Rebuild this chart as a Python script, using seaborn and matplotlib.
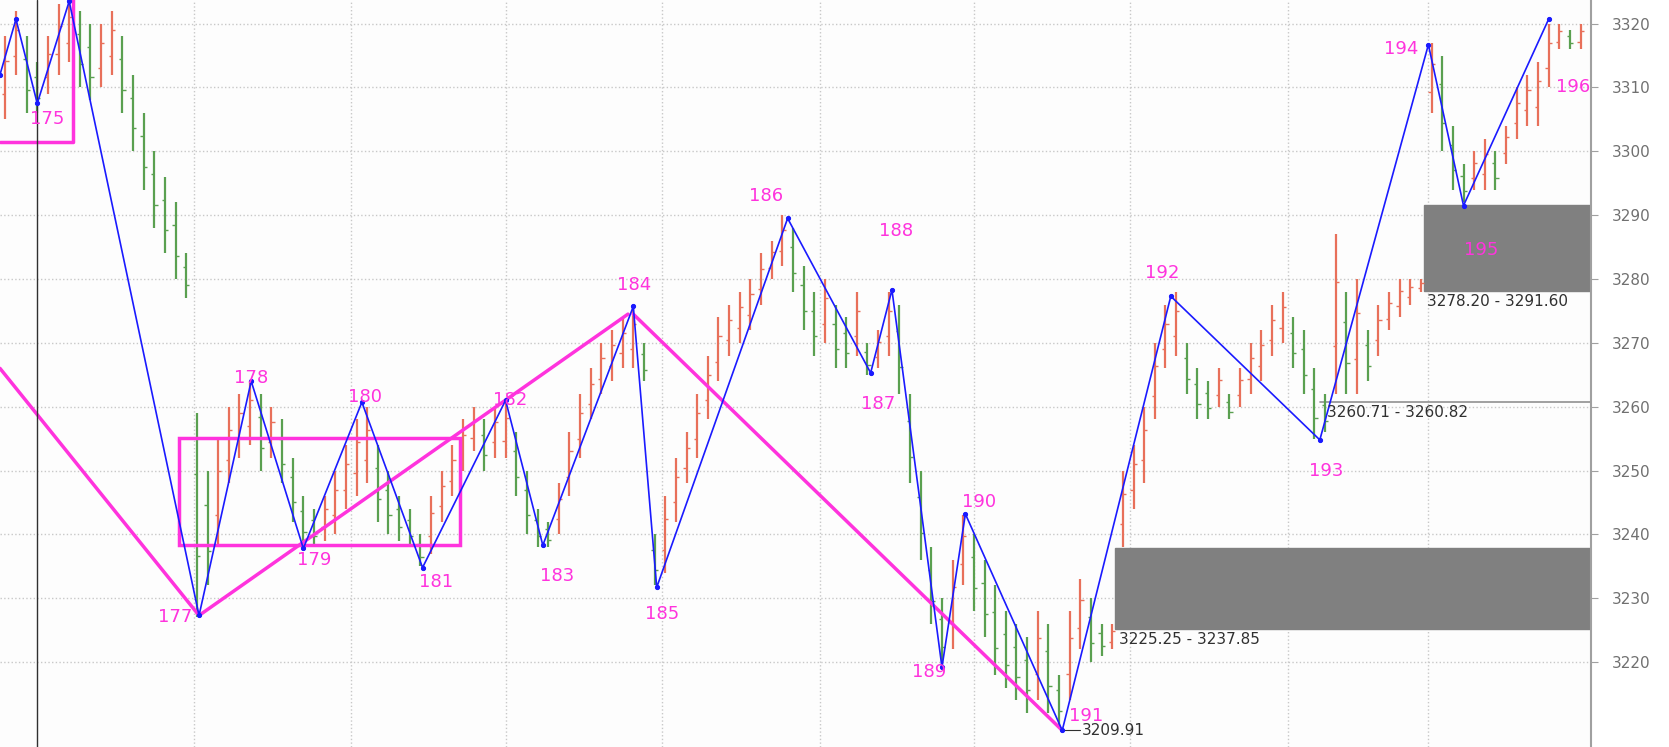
import matplotlib
matplotlib.use("Agg")
import matplotlib.pyplot as plt
import seaborn as sns
import pandas as pd
import numpy as np
from matplotlib.patches import Rectangle

sns.set_style("white")
plt.rcParams['font.family'] = ['DejaVu Sans']

# bar highs / lows (one bar per x unit, starting at 0.5)
highs = [3318,3322,3318,3314,3318,3323,3324,3322,3320,3320,3322,3318,3312,3306,3300,3296,3292,3284,
         3259,3250,3255,3260,3262,3264,3262,3260,3258,3252,3246,3244,3246,3250,3254,3258,3260,3254,3250,3246,3244,3240,
         3246,3250,3254,3258,3260,3258,3260,3261,3256,3250,3244,3242,3248,3256,3262,3266,3270,3272,3274,3276,3270,
         3240,3246,3252,3256,3262,3268,3274,3276,3278,3280,3284,3286,3290,3288,3282,3278,3280,3276,3274,3278,3270,3272,3278,
         3276,3262,3250,3238,3230,3236,3243,3240,3236,3232,3228,3226,3224,3228,3226,3218,3228,3233,3230,3226,3226,
         3250,3254,3260,3270,3276,3278,3270,3266,3264,3266,3262,3266,3270,3272,3276,3278,3274,3272,3266,3262,
         3287,3278,3280,3272,3276,3278,3280,3280,3280,3317,3315,3304,3298,3300,3302,3300,3304,3310,3312,3314,3320,3320,3319,3320]
lows = [3305,3312,3306,3306,3309,3312,3314,3310,3308,3310,3312,3306,3300,3294,3288,3284,3280,3277,
        3227,3232,3238,3248,3252,3254,3250,3252,3248,3242,3238,3238,3239,3240,3244,3246,3248,3242,3240,3239,3238,3235,
        3237,3242,3246,3250,3253,3250,3252,3252,3246,3240,3238,3238,3240,3246,3252,3258,3262,3264,3266,3266,3264,
        3232,3234,3242,3248,3252,3258,3264,3268,3270,3272,3276,3280,3282,3278,3272,3268,3270,3266,3266,3268,3265,3266,3268,
        3262,3248,3236,3226,3219,3222,3232,3228,3224,3218,3216,3214,3212,3214,3212,3210,3214,3222,3220,3221,3222,
        3238,3244,3248,3258,3266,3268,3262,3258,3258,3260,3258,3260,3262,3264,3268,3270,3266,3262,3255,3256,
        3262,3262,3262,3264,3268,3272,3274,3276,3278,3306,3300,3294,3292,3294,3294,3294,3298,3302,3304,3304,3310,3316,3316,3316]

# zigzag pivots
piv_x = [0.0, 1.5, 3.5, 6.5, 18.7, 23.6, 28.5, 34.0, 39.7, 47.5, 51.0, 59.5, 61.7, 74.0, 81.8, 83.8, 88.5, 90.7, 99.8, 110.0, 124.0, 134.2, 137.5, 145.5]
piv_y = [3312, 3320.7, 3307.5, 3323.5, 3227.3, 3264, 3237.8, 3260.7, 3234.8, 3261, 3238.3, 3275.7, 3231.7, 3289.5, 3265.3, 3278.3, 3219.2, 3243.2, 3209.3, 3277.3, 3254.8, 3316.7, 3291.5, 3320.7]

# magenta trend lines
trend_x = [0.0, 18.7, 59.0, 59.5, 99.8]
trend_y = [3266, 3227.3, 3274.5, 3274.5, 3209.3]
trend_seg = [0, 0, 0, 1, 1]

label_txt = ['175','177','178','179','180','181','182','183','184','185','186','187','188','189','190','191','192','193','194','195','196']
label_x = [4.4,16.5,23.6,29.5,34.3,41.0,47.9,52.3,59.6,62.2,72.0,82.5,84.2,87.3,92.0,102.0,109.2,124.6,131.6,139.2,147.8]
label_y = [3305,3227,3264.5,3236,3261.5,3232.5,3261,3233.5,3279,3227.5,3293,3260.5,3287.5,3218.5,3245,3211.5,3281,3250,3316,3284.5,3310]

zones = [(104.8, 3225.25, 3237.85, "3225.25 - 3237.85"), (133.8, 3278.20, 3291.60, "3278.20 - 3291.60")]
yticks = [3220, 3230, 3240, 3250, 3260, 3270, 3280, 3290, 3300, 3310, 3320]
xgrid = [18.2, 33.0, 47.5, 62.2, 77.0, 91.5, 106.2, 121.0, 134.2]

fig = plt.figure(figsize=(16.69, 7.47), dpi=100)
fig.patch.set_facecolor('white')
ax = fig.add_axes([0, 0, 0.9534, 1])
ax.set_facecolor('#fdfdfd')
XMAX = 149.5
ax.set_xlim(0, XMAX)
ax.set_ylim(3206.7, 3323.7)

for gx in xgrid:
    ax.axvline(gx, color='#c8c8c8', ls=':', lw=1, zorder=0)
for gy in yticks:
    ax.axhline(gy, color='#c8c8c8', ls=':', lw=1, zorder=0)

# gray zones
for x0, lo, hi, txt in zones:
    ax.add_patch(Rectangle((x0, lo), XMAX - x0, hi - lo, color='#808080', zorder=1))
    ax.text(x0 + 0.3, lo - 0.6, txt, fontsize=11, color='#303030', va='top', ha='left', zorder=5)
ax.plot([124.0, XMAX], [3260.8, 3260.8], color='#909090', lw=1.2, zorder=1)
ax.text(124.7, 3260.3, "3260.71 - 3260.82", fontsize=11, color='#303030', va='top', ha='left', zorder=5)
ax.plot([99.8, 101.5], [3209.3, 3209.3], color='#303030', lw=0.8)
ax.text(101.6, 3209.3, "3209.91", fontsize=11, color='#303030', va='center', ha='left')

# bars
mids = [(h + l) / 2 for h, l in zip(highs, lows)]
for i, (h, l) in enumerate(zip(highs, lows)):
    up = i == 0 or mids[i] >= mids[i - 1]
    c = '#e8705a' if up else '#5aa050'
    x = i + 0.5
    ax.vlines(x, l, h, color=c, lw=1.6, zorder=2)
    o, cl = (l + (h - l) * 0.3, l + (h - l) * 0.7) if up else (l + (h - l) * 0.7, l + (h - l) * 0.3)
    ax.hlines(o, x - 0.3, x, color=c, lw=1, zorder=2)
    ax.hlines(cl, x, x + 0.3, color=c, lw=1, zorder=2)

# magenta boxes and lines
ax.add_patch(Rectangle((16.8, 3238.3), 26.4, 16.8, fill=False, ec='#ff33dd', lw=2.5, zorder=3))
ax.plot([0, 6.9, 6.9], [3301.5, 3301.5, 3324], color='#ff33dd', lw=2.5, zorder=3)
tdf = pd.DataFrame({'x': trend_x, 'y': trend_y, 's': trend_seg})
sns.lineplot(data=tdf, x='x', y='y', units='s', estimator=None, sort=False, color='#ff33dd', lw=2.5, ax=ax, zorder=3)
ax.axvline(3.5, color='#303030', lw=1, zorder=3)

# zigzag
zdf = pd.DataFrame({'x': piv_x, 'y': piv_y})
sns.lineplot(data=zdf, x='x', y='y', sort=False, color='#1a1aff', lw=1.2, ax=ax, zorder=4,
             marker='o', markersize=3, markeredgecolor='#1a1aff')

for t, x, y in zip(label_txt, label_x, label_y):
    ax.text(x, y, t, color='#ff33dd', fontsize=13, ha='center', va='center', zorder=6)

ax.set_xticks([])
ax.yaxis.tick_right()
ax.set_yticks(yticks)
ax.set_yticklabels([str(v) for v in yticks], color='#707070', fontsize=11)
ax.tick_params(axis='y', length=5, color='#a0a0a0', pad=10)
ax.set_xlabel(''); ax.set_ylabel('')
for s in ['top', 'left', 'bottom']:
    ax.spines[s].set_visible(False)
ax.spines['right'].set_color('#a0a0a0')
ax.spines['right'].set_linewidth(1.5)

fig.savefig('out.png', dpi=100, facecolor='white')
